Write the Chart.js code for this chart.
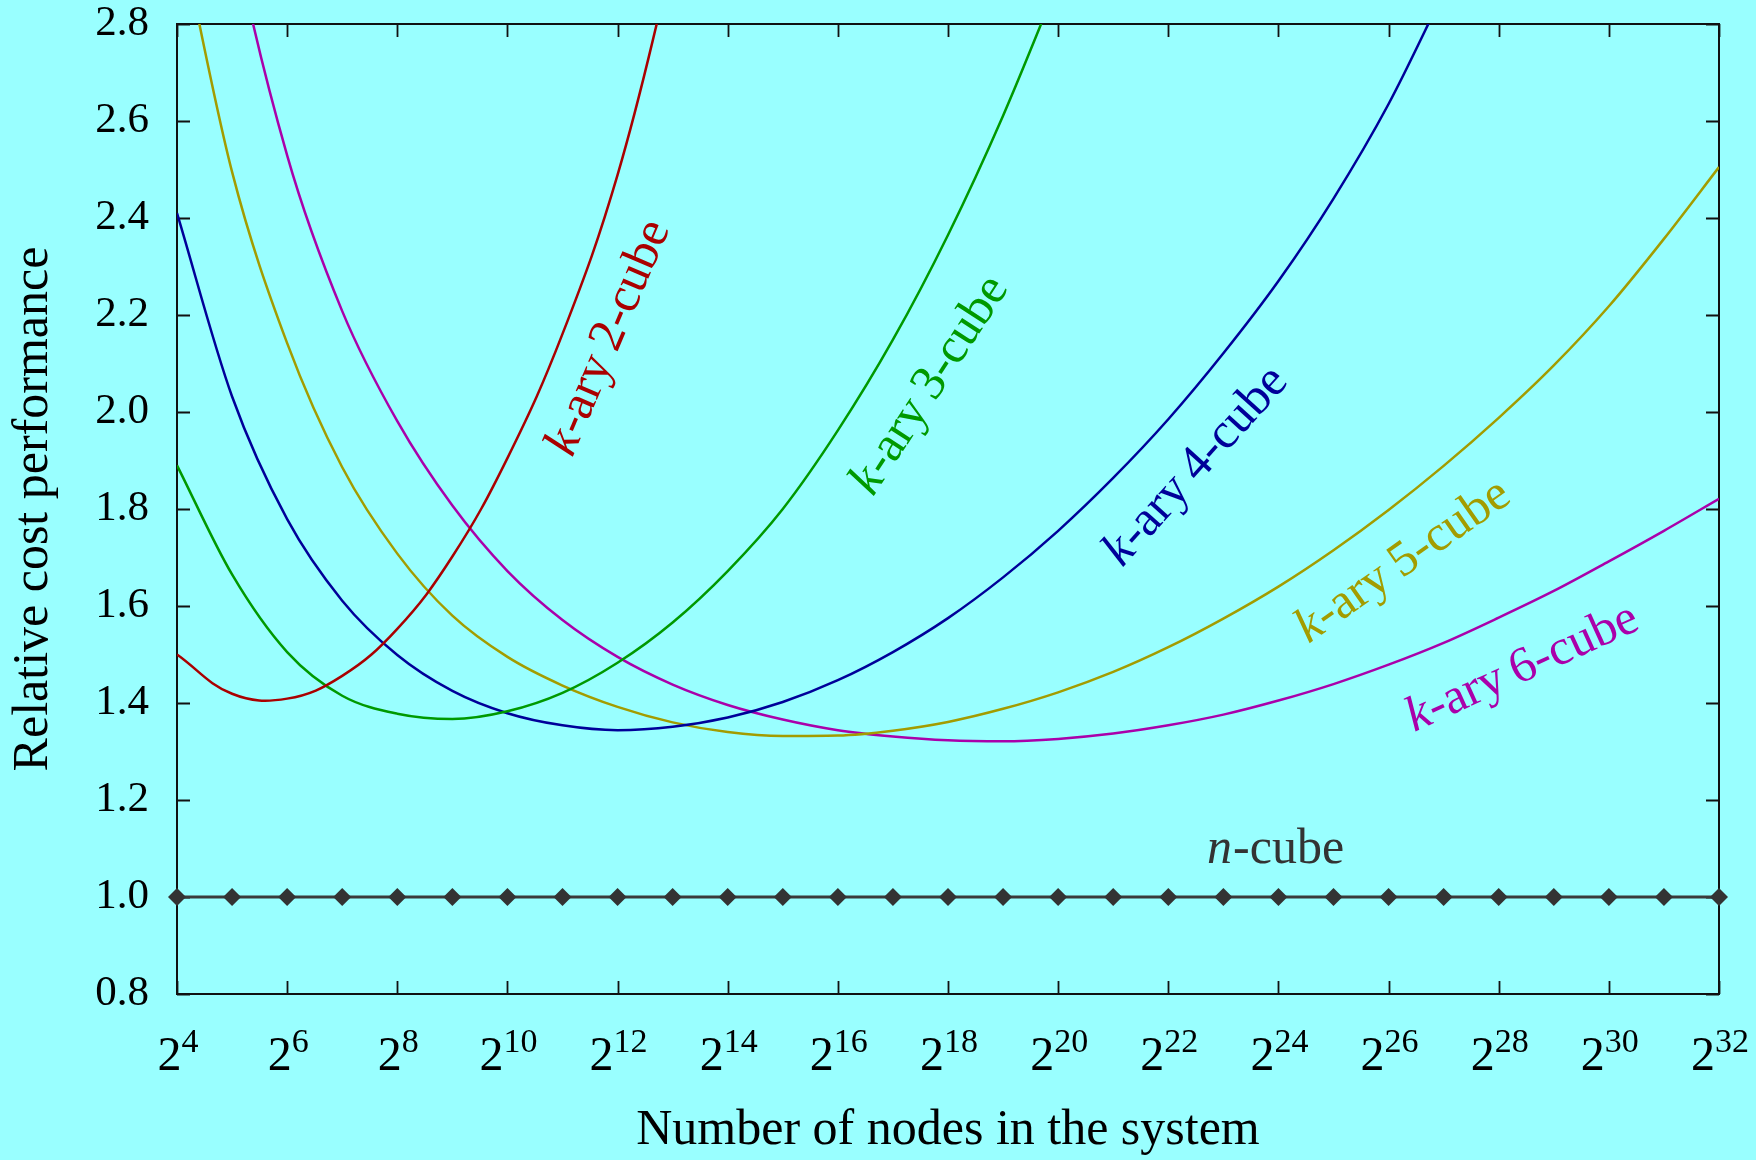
<!DOCTYPE html>
<html>
<head>
<meta charset="utf-8">
<script src="https://cdn.jsdelivr.net/npm/chart.js@4.4.1/dist/chart.umd.min.js"></script>
<style>
  html, body { margin: 0; padding: 0; background: #99ffff; }
  canvas { display: block; }
</style>
</head>
<body>
<canvas id="chart" width="1756" height="1160"></canvas>
<script>
// log2 of the number of nodes
const exponents = [4, 5, 6, 7, 8, 9, 10, 11, 12, 13, 14, 15, 16, 17, 18,
                   19, 20, 21, 22, 23, 24, 25, 26, 27, 28, 29, 30, 31, 32];

// relative cost performance, one value per exponent (series stop once they leave the top)
const cube2 = [1.500, 1.419, 1.409, 1.456, 1.553, 1.702, 1.905, 2.161, 2.489, 2.933];
const cube3 = [1.890, 1.665, 1.505, 1.415, 1.378, 1.367, 1.383, 1.421, 1.483, 1.566,
               1.672, 1.800, 1.962, 2.149, 2.365, 2.611, 2.886];
const cube4 = [2.410, 2.032, 1.779, 1.611, 1.499, 1.425, 1.379, 1.354, 1.344, 1.351,
               1.370, 1.402, 1.447, 1.505, 1.575, 1.659, 1.755, 1.864, 1.985, 2.121,
               2.270, 2.440, 2.635, 2.865];
const cube5 = [3.023, 2.495, 2.142, 1.886, 1.708, 1.580, 1.495, 1.436, 1.392, 1.360,
               1.340, 1.332, 1.333, 1.343, 1.361, 1.388, 1.422, 1.464, 1.515, 1.574,
               1.640, 1.715, 1.798, 1.889, 1.988, 2.096, 2.218, 2.357, 2.505];
const cube6 = [3.710, 3.004, 2.529, 2.208, 1.981, 1.807, 1.672, 1.571, 1.495, 1.438,
               1.396, 1.366, 1.344, 1.331, 1.323, 1.321, 1.326, 1.337, 1.354, 1.376,
               1.405, 1.439, 1.479, 1.524, 1.576, 1.631, 1.692, 1.755, 1.821];
const ncube = [1.0, 1.0, 1.0, 1.0, 1.0, 1.0, 1.0, 1.0, 1.0, 1.0, 1.0, 1.0, 1.0, 1.0, 1.0,
               1.0, 1.0, 1.0, 1.0, 1.0, 1.0, 1.0, 1.0, 1.0, 1.0, 1.0, 1.0, 1.0, 1.0];

const seriesNames = ['k-ary 2-cube', 'k-ary 3-cube', 'k-ary 4-cube', 'k-ary 5-cube', 'k-ary 6-cube', 'n-cube'];

// axis ticks
const xTickExponents = [4, 6, 8, 10, 12, 14, 16, 18, 20, 22, 24, 26, 28, 30, 32];
const xTickBase = '2';
const yTickValues = [0.8, 1.0, 1.2, 1.4, 1.6, 1.8, 2.0, 2.2, 2.4, 2.6, 2.8];
const yTickLabels = ['0.8', '1.0', '1.2', '1.4', '1.6', '1.8', '2.0', '2.2', '2.4', '2.6', '2.8'];

const FONT = "'Liberation Serif', 'Times New Roman', serif";
const colors = ['#aa0000', '#009900', '#000099', '#a39c00', '#aa00aa', '#333333'];

const toPoints = vals => vals.map((v, i) => ({ x: exponents[i], y: v }));

// the 2-cube keeps a plain spline so its shallow minimum can fall between samples
const curveSets = [cube2, cube3, cube4, cube5, cube6].map((vals, i) => ({
  label: seriesNames[i],
  data: toPoints(vals),
  borderColor: colors[i],
  borderWidth: 2.5,
  pointRadius: 0,
  tension: 0.4,
  cubicInterpolationMode: i === 0 ? 'default' : 'monotone',
  fill: false
}));

const ncubeSet = {
  label: seriesNames[5],
  data: toPoints(ncube),
  borderColor: '#3a3a3a',
  borderWidth: 2.8,
  pointStyle: 'rectRot',
  pointRadius: 9,
  pointBackgroundColor: '#333333',
  pointBorderWidth: 0,
  tension: 0,
  clip: false,
  fill: false
};

// where each curve name sits (data coordinates) and its slant on screen
const labelPlacements = [
  { series: 0, x: 11.84, y: 2.152, angle: -67 },
  { series: 1, x: 17.67, y: 2.054, angle: -57 },
  { series: 2, x: 22.50, y: 1.887, angle: -48 },
  { series: 3, x: 26.26, y: 1.691, angle: -35 },
  { series: 4, x: 28.42, y: 1.471, angle: -24.5 },
  { series: 5, x: 23.94, y: 1.071, angle: 0, baseline: 'alphabetic' }
];

const backgroundPlugin = {
  id: 'pageBackground',
  beforeDraw(chart) {
    const ctx = chart.ctx;
    ctx.save();
    ctx.fillStyle = '#99ffff';
    ctx.fillRect(0, 0, chart.width, chart.height);
    ctx.restore();
  }
};

// closed frame with inward tick marks on all four sides
const framePlugin = {
  id: 'frameTicks',
  beforeDatasetsDraw(chart) {
    const { ctx, chartArea: a, scales: { x, y } } = chart;
    const len = 13;
    ctx.save();
    ctx.strokeStyle = '#111111';
    ctx.lineWidth = 2;
    ctx.strokeRect(a.left, a.top, a.right - a.left, a.bottom - a.top);
    ctx.lineWidth = 1.8;
    ctx.beginPath();
    xTickExponents.forEach(v => {
      const px = Math.round(x.getPixelForValue(v)) + 0.5;
      ctx.moveTo(px, a.bottom); ctx.lineTo(px, a.bottom - len);
      ctx.moveTo(px, a.top); ctx.lineTo(px, a.top + len);
    });
    yTickValues.forEach(v => {
      const py = Math.round(y.getPixelForValue(v)) + 0.5;
      ctx.moveTo(a.left, py); ctx.lineTo(a.left + len, py);
      ctx.moveTo(a.right, py); ctx.lineTo(a.right - len, py);
    });
    ctx.stroke();
    ctx.restore();
  }
};

// x tick labels as powers of two: base plus raised exponent
const powerTicksPlugin = {
  id: 'powerTicks',
  afterDraw(chart) {
    const { ctx, scales: { x } } = chart;
    const baseFont = '48px ' + FONT;
    const expFont = '34px ' + FONT;
    const baseY = x.top + 76;
    const expY = baseY - 18;
    ctx.save();
    ctx.fillStyle = '#000000';
    ctx.textBaseline = 'alphabetic';
    ctx.textAlign = 'left';
    xTickExponents.forEach(e => {
      const expText = String(e);
      ctx.font = baseFont;
      const wb = ctx.measureText(xTickBase).width;
      ctx.font = expFont;
      const we = ctx.measureText(expText).width;
      const left = x.getPixelForValue(e) - (wb + we) / 2 + 1;
      ctx.font = baseFont;
      ctx.fillText(xTickBase, left, baseY);
      ctx.font = expFont;
      ctx.fillText(expText, left + wb, expY);
    });
    ctx.restore();
  }
};

// curve names: italic leading symbol, upright remainder, rotated along the curve
const curveLabelPlugin = {
  id: 'curveLabels',
  afterDatasetsDraw(chart) {
    const { ctx, scales: { x, y } } = chart;
    const size = 50;
    ctx.save();
    labelPlacements.forEach(p => {
      const name = seriesNames[p.series];
      const head = name.charAt(0);
      const tail = name.slice(1).replace(' ', '\u2009');
      const px = x.getPixelForValue(p.x);
      const py = y.getPixelForValue(p.y);
      ctx.save();
      ctx.translate(px, py);
      ctx.rotate(p.angle * Math.PI / 180);
      ctx.fillStyle = colors[p.series];
      ctx.textBaseline = p.baseline || 'middle';
      ctx.textAlign = 'left';
      ctx.font = 'italic ' + size + 'px ' + FONT;
      const wh = ctx.measureText(head).width;
      ctx.font = size + 'px ' + FONT;
      const wt = ctx.measureText(tail).width;
      const start = -(wh + wt) / 2;
      ctx.font = 'italic ' + size + 'px ' + FONT;
      ctx.fillText(head, start, 0);
      ctx.font = size + 'px ' + FONT;
      ctx.fillText(tail, start + wh + 1, 0);
      ctx.restore();
    });
    ctx.restore();
  }
};

new Chart(document.getElementById('chart'), {
  type: 'line',
  data: { datasets: [...curveSets, ncubeSet] },
  options: {
    responsive: false,
    animation: false,
    events: [],
    layout: { padding: { top: 24, right: 37, left: 0, bottom: 0 } },
    plugins: { legend: { display: false }, tooltip: { enabled: false } },
    scales: {
      x: {
        type: 'linear',
        min: 4,
        max: 32,
        afterBuildTicks: s => { s.ticks = xTickExponents.map(v => ({ value: v })); },
        afterFit: s => { s.height = 166; s.paddingLeft = 0; s.paddingRight = 0; },
        ticks: { display: false },
        grid: { display: false, drawTicks: false },
        border: { display: false },
        title: {
          display: true,
          text: 'Number of nodes in the system',
          color: '#000000',
          font: { family: FONT, size: 50, lineHeight: 1 },
          padding: { top: 0, bottom: 4 }
        }
      },
      y: {
        type: 'linear',
        min: 0.8,
        max: 2.8,
        afterBuildTicks: s => { s.ticks = yTickValues.map(v => ({ value: v })); },
        afterFit: s => { s.width = 177; s.paddingTop = 0; s.paddingBottom = 0; },
        ticks: {
          callback: (v, i) => yTickLabels[i],
          color: '#000000',
          font: { family: FONT, size: 43, lineHeight: 1 },
          padding: 28
        },
        grid: { display: false, drawTicks: false },
        border: { display: false },
        title: {
          display: true,
          text: 'Relative cost performance',
          color: '#000000',
          font: { family: FONT, size: 50, lineHeight: 1.2 },
          padding: { top: 4, bottom: 0 }
        }
      }
    }
  },
  plugins: [backgroundPlugin, framePlugin, powerTicksPlugin, curveLabelPlugin]
});
</script>
</body>
</html>
